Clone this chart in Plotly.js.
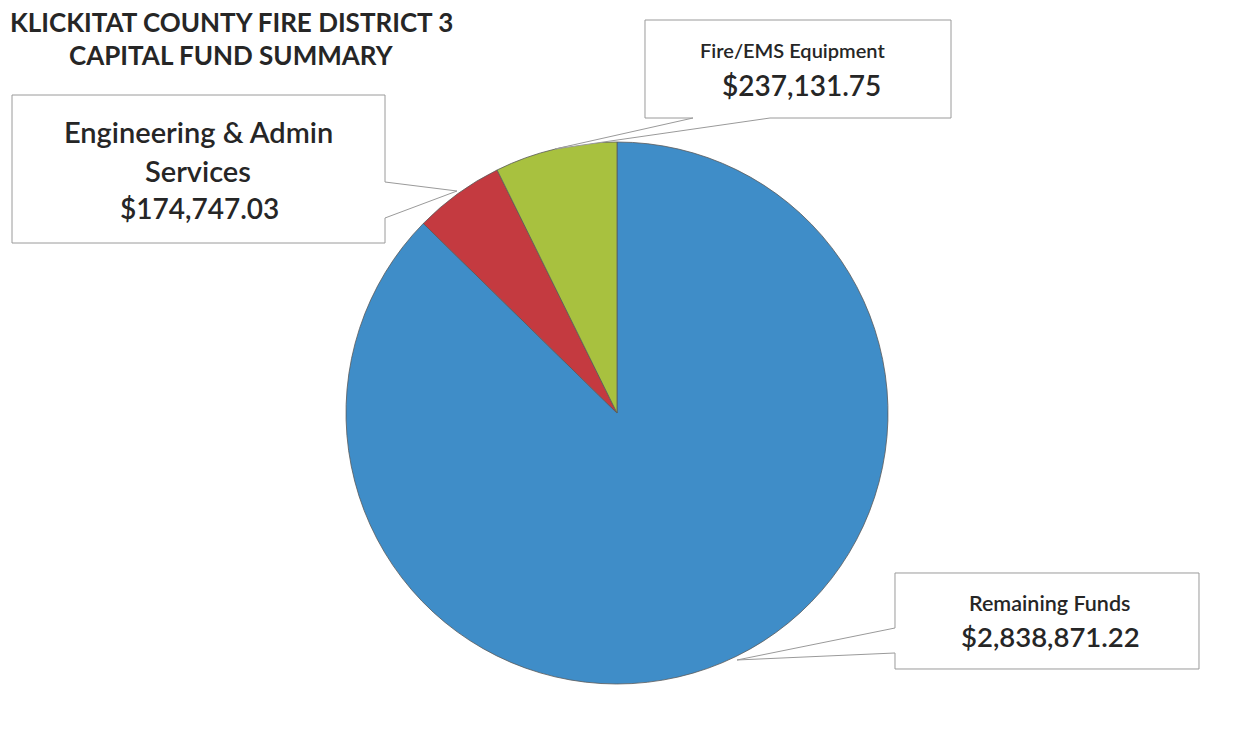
<!DOCTYPE html>
<html>
<head>
<meta charset="utf-8">
<script src="https://cdn.plot.ly/plotly-3.0.1.min.js"></script>
<style>html,body{margin:0;padding:0;background:#fff;}#chart{width:1236px;height:740px;}</style>
</head>
<body>
<div id="chart"></div>
<script>
// ---- data ----
const categories = ["Remaining Funds", "Engineering & Admin Services", "Fire/EMS Equipment"];
const amounts = [2838871.22, 174747.03, 237131.75];
const amountLabels = ["$2,838,871.22", "$174,747.03", "$237,131.75"];
const titleLines = ["KLICKITAT COUNTY FIRE DISTRICT 3", "CAPITAL FUND SUMMARY"];
const sliceColors = ["#3f8dc8", "#c43a40", "#a8c13f"];

const W = 1236, H = 740;
const px = x => x / W;
const py = y => 1 - y / H;

function calloutPath(pts) {
  return pts.map((p, i) => (i ? "L" : "M") + px(p[0]).toFixed(5) + "," + py(p[1]).toFixed(5)).join(" ") + " Z";
}

const boxLine = {color: "#9a9a9a", width: 1};
const shapes = [
  {type: "path", xref: "paper", yref: "paper", fillcolor: "#ffffff", line: boxLine,
   path: calloutPath([[12,95],[385,95],[385,182],[457,191],[385,218],[385,243],[12,243]])},
  {type: "path", xref: "paper", yref: "paper", fillcolor: "#ffffff", line: boxLine,
   path: calloutPath([[645,20],[951,20],[951,118],[770,118],[555,149],[693,118],[645,118]])},
  {type: "path", xref: "paper", yref: "paper", fillcolor: "#ffffff", line: boxLine,
   path: calloutPath([[895,573],[1199,573],[1199,669],[895,669],[895,653],[737,660],[895,628]])}
];

const font = "Lato, 'Open Sans', sans-serif";
function ann(text, x, y, size, weight) {
  return {text: text, xref: "paper", yref: "paper", x: px(x), y: py(y),
          xanchor: "center", yanchor: "middle", showarrow: false,
          font: {family: font, size: size, color: "#262626", weight: weight || 600}};
}

const annotations = [
  ann(titleLines[0], 231, 22, 26, 700),
  ann(titleLines[1], 231, 55, 26, 700),
  ann("Engineering & Admin", 198, 132, 29),
  ann("Services", 198, 170, 29),
  ann(amountLabels[1], 199, 208, 28),
  ann("Fire/EMS Equipment", 792, 50, 20),
  ann(amountLabels[2], 801, 85, 28),
  ann("Remaining Funds", 1049, 603, 21.5),
  ann(amountLabels[0], 1050, 636, 27.5)
];

const trace = {
  type: "pie",
  labels: categories,
  values: amounts,
  sort: false,
  direction: "clockwise",
  rotation: 0,
  textinfo: "none",
  hoverinfo: "label+value+percent",
  marker: {colors: sliceColors, line: {color: "#5a5a5a", width: 0.8}},
  domain: {x: [px(346), px(888)], y: [py(684), py(142)]},
  showlegend: false
};

const layout = {
  width: W, height: H,
  margin: {l: 0, r: 0, t: 0, b: 0},
  paper_bgcolor: "#ffffff",
  plot_bgcolor: "#ffffff",
  shapes: shapes,
  annotations: annotations,
  showlegend: false
};

Plotly.newPlot("chart", [trace], layout, {displayModeBar: false, staticPlot: true});
</script>
</body>
</html>
